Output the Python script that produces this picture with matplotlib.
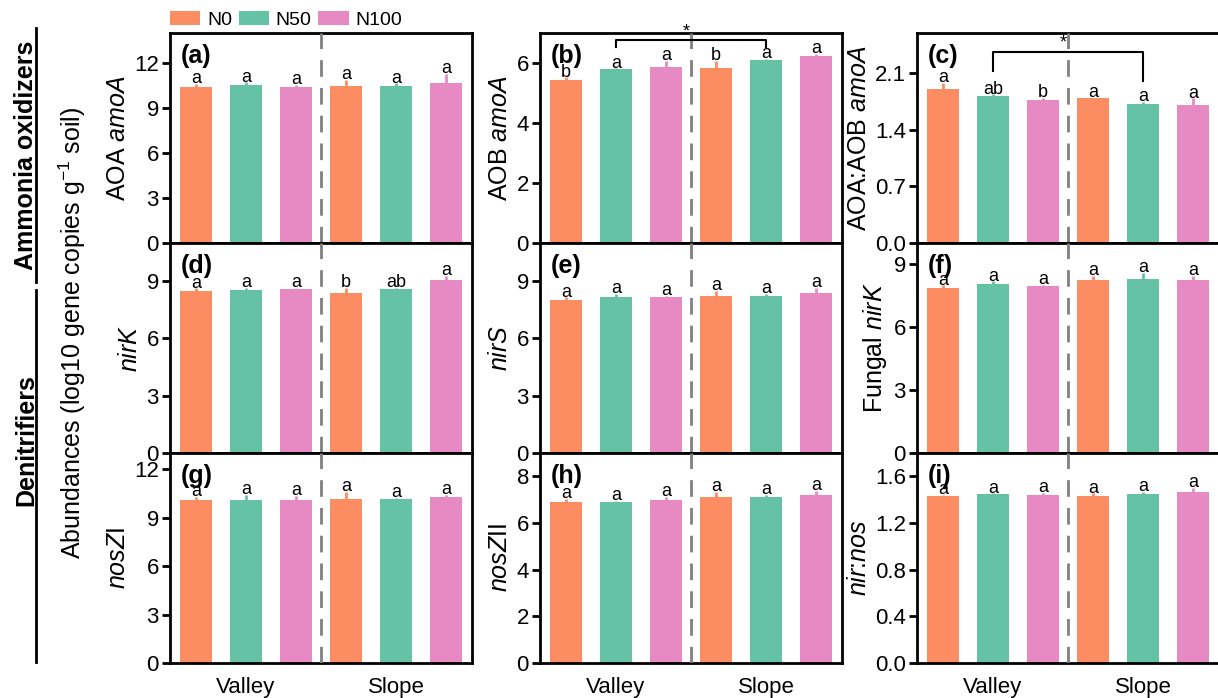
import numpy as np
import matplotlib
matplotlib.use("Agg")
import matplotlib.pyplot as plt
from matplotlib.patches import Patch
from matplotlib.lines import Line2D

plt.rcParams['font.family'] = ['Liberation Sans', 'DejaVu Sans']
plt.rcParams['mathtext.fontset'] = 'custom'
plt.rcParams['mathtext.rm'] = 'Liberation Sans'
plt.rcParams['mathtext.it'] = 'Liberation Sans:italic'
plt.rcParams['mathtext.bf'] = 'Liberation Sans:bold'

# data
treatments = ['N0', 'N50', 'N100']
sites = ['Valley', 'Slope']
colors = ['#FC8D62', '#66C2A5', '#E78AC3']

panel_ids = ['(a)', '(b)', '(c)', '(d)', '(e)', '(f)', '(g)', '(h)', '(i)']
ylabels = ['AOA $\\mathit{amoA}$', 'AOB $\\mathit{amoA}$', 'AOA:AOB $\\mathit{amoA}$',
           '$\\mathit{nirK}$', '$\\mathit{nirS}$', 'Fungal $\\mathit{nirK}$',
           '$\\mathit{nosZ}$I', '$\\mathit{nosZ}$II', '$\\mathit{nir}$:$\\mathit{nos}$']

# bar order: Valley N0, N50, N100, Slope N0, N50, N100
aoa_amoA = [10.38, 10.56, 10.38, 10.45, 10.49, 10.67]
aoa_amoA_se = [0.20, 0.15, 0.15, 0.45, 0.15, 0.58]
aob_amoA = [5.43, 5.79, 5.87, 5.83, 6.10, 6.24]
aob_amoA_se = [0.09, 0.03, 0.19, 0.23, 0.03, 0.07]
ratio_amoA = [1.91, 1.82, 1.77, 1.79, 1.72, 1.71]
ratio_amoA_se = [0.07, 0.02, 0.03, 0.01, 0.03, 0.08]
nirK = [8.47, 8.54, 8.60, 8.38, 8.60, 9.04]
nirK_se = [0.15, 0.10, 0.05, 0.26, 0.05, 0.23]
nirS = [8.03, 8.15, 8.15, 8.22, 8.24, 8.38]
nirS_se = [0.12, 0.18, 0.08, 0.25, 0.08, 0.26]
fungal_nirK = [7.88, 8.04, 7.97, 8.23, 8.29, 8.26]
fungal_nirK_se = [0.10, 0.13, 0.05, 0.20, 0.27, 0.16]
nosZI = [10.09, 10.09, 10.09, 10.15, 10.15, 10.25]
nosZI_se = [0.17, 0.31, 0.25, 0.42, 0.05, 0.14]
nosZII = [6.89, 6.89, 6.97, 7.10, 7.12, 7.19]
nosZII_se = [0.13, 0.05, 0.14, 0.23, 0.08, 0.17]
nir_nos = [1.428, 1.448, 1.440, 1.434, 1.448, 1.468]
nir_nos_se = [0.01, 0.005, 0.02, 0.02, 0.02, 0.03]

values = [aoa_amoA, aob_amoA, ratio_amoA, nirK, nirS, fungal_nirK, nosZI, nosZII, nir_nos]
errors = [aoa_amoA_se, aob_amoA_se, ratio_amoA_se, nirK_se, nirS_se, fungal_nirK_se,
          nosZI_se, nosZII_se, nir_nos_se]

letters = [['a'] * 6,
           ['b', 'a', 'a', 'b', 'a', 'a'],
           ['a', 'ab', 'b', 'a', 'a', 'a'],
           ['a', 'a', 'a', 'b', 'ab', 'a'],
           ['a'] * 6, ['a'] * 6, ['a'] * 6, ['a'] * 6, ['a'] * 6]

ylims = [14, 7, 2.6, 11, 11, 10, 13, 9, 1.8]
yticks = [[0, 3, 6, 9, 12], [0, 2, 4, 6], [0.0, 0.7, 1.4, 2.1],
          [0, 3, 6, 9], [0, 3, 6, 9], [0, 3, 6, 9],
          [0, 3, 6, 9, 12], [0, 2, 4, 6, 8], [0.0, 0.4, 0.8, 1.2, 1.6]]
ytick_fmt = ['{:.0f}', '{:.0f}', '{:.1f}', '{:.0f}', '{:.0f}', '{:.0f}', '{:.0f}', '{:.0f}', '{:.1f}']

# significance brackets (panel index, x1, x2, y, left leg end, right leg end)
brackets = [(1, 2, 5, 6.76, 6.52, 6.52), (2, 2, 5, 2.37, 2.13, 2.01)]

W, H = 1218, 698
fig = plt.figure(figsize=(W / 100, H / 100), dpi=100)

col_left = [170, 540, 917]
row_top = [33, 243, 453]
aw, ah = 302, 210

x = np.arange(1, 7)
bar_colors = colors * 2

axes = []
for k in range(9):
    r, c = divmod(k, 3)
    ax = fig.add_axes([col_left[c] / W, 1 - (row_top[r] + ah) / H, aw / W, ah / H])
    axes.append(ax)
    vals = values[k]
    errs = errors[k]
    ax.bar(x, vals, width=0.64, color=bar_colors, edgecolor='none', zorder=2)
    for i in range(6):
        ax.errorbar(x[i], vals[i], yerr=[[0], [errs[i]]], fmt='none',
                    ecolor=bar_colors[i], elinewidth=2, capsize=0, zorder=1)
        ax.text(x[i], vals[i] + errs[i] + ylims[k] * 0.004, letters[k][i],
                ha='center', va='baseline', fontsize=13)
    ax.axvline(3.5, color='#808080', lw=2, dashes=(6, 4), zorder=3)
    ax.set_xlim(0.48, 6.52)
    ax.set_ylim(0, ylims[k])
    ax.set_yticks(yticks[k])
    ax.set_yticklabels([ytick_fmt[k].format(t) for t in yticks[k]])
    ax.set_xticks(x)
    ax.set_xticklabels([])
    ax.tick_params(axis='y', direction='out', length=6, width=2, labelsize=16, pad=2)
    ax.tick_params(axis='x', direction='in', length=6, width=2)
    for sp in ax.spines.values():
        sp.set_linewidth(2)
    ax.set_ylabel(ylabels[k], fontsize=18, labelpad=3)
    ax.text(0.035, 0.95, panel_ids[k], transform=ax.transAxes, ha='left', va='top',
            fontsize=18, fontweight='bold')
    if r == 2:
        for xs, s in zip([2, 5], sites):
            ax.text(xs, -0.065, s, transform=ax.get_xaxis_transform(),
                    ha='center', va='top', fontsize=16)

for k, x1, x2, yb, l1, l2 in brackets:
    ax = axes[k]
    ax.plot([x1, x1, x2, x2], [l1, yb, yb, l2], color='black', lw=1.5, zorder=4,
            clip_on=False)
    ax.text(3.4, yb, '*', ha='center', va='bottom', fontsize=13)

# legend
handles = [Patch(facecolor=colors[i], edgecolor='none', label=treatments[i]) for i in range(3)]
fig.legend(handles=handles, loc='center left', bbox_to_anchor=(170 / W, 1 - 20 / H),
           ncol=3, frameon=False, fontsize=14, handlelength=1.55, handleheight=0.75,
           columnspacing=0.35, handletextpad=0.35, borderpad=0, borderaxespad=0)

# left group labels
fig.text(26 / W, 1 - 155 / H, 'Ammonia oxidizers', rotation=90, ha='center', va='center',
         fontsize=18, fontweight='bold')
fig.text(26 / W, 1 - 440 / H, 'Denitrifiers', rotation=90, ha='center', va='center',
         fontsize=18, fontweight='bold')
fig.add_artist(Line2D([36 / W, 36 / W], [1 - 28 / H, 1 - 282 / H], color='black', lw=2))
fig.add_artist(Line2D([36 / W, 36 / W], [1 - 290 / H, 1 - 662 / H], color='black', lw=2))
fig.text(72 / W, 1 - 333 / H, 'Abundances (log10 gene copies g$^{-1}$ soil)', rotation=90,
         ha='center', va='center', fontsize=18)

fig.savefig('out.png', dpi=100)
